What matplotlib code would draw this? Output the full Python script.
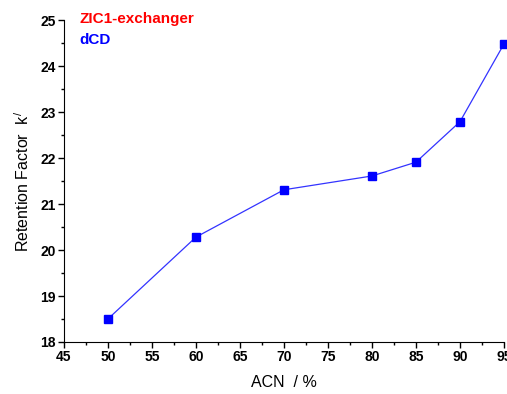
import matplotlib
matplotlib.use("Agg")
import matplotlib.pyplot as plt
from matplotlib.ticker import MultipleLocator

acn = [50, 60, 70, 80, 85, 90, 95]
k_dcd = [18.5, 20.28, 21.31, 21.61, 21.91, 22.79, 24.48]

plt.rcParams['font.family'] = ['Liberation Sans', 'DejaVu Sans']
plt.rcParams['mathtext.fontset'] = 'custom'
plt.rcParams['mathtext.rm'] = 'Liberation Sans'
plt.rcParams['mathtext.it'] = 'Liberation Sans'

fig = plt.figure(figsize=(5.07, 3.94), dpi=100)
ax = fig.add_axes([0.126, 0.132, 0.868, 0.817])

ax.plot(acn, k_dcd, color='#3333ff', lw=0.9, marker='s', ms=6,
        mfc='#0000ff', mec='#0000ff', clip_on=False)

ax.set_xlim(45, 95)
ax.set_ylim(18, 25)
ax.xaxis.set_major_locator(MultipleLocator(5))
ax.xaxis.set_minor_locator(MultipleLocator(2.5))
ax.yaxis.set_major_locator(MultipleLocator(1))
ax.yaxis.set_minor_locator(MultipleLocator(0.5))

for s in ['top', 'right']:
    ax.spines[s].set_visible(False)
ax.tick_params(which='major', direction='out', length=4, width=1, labelsize=10, pad=2)
ax.tick_params(which='minor', direction='out', length=2.5, width=1)
for lab in ax.get_xticklabels() + ax.get_yticklabels():
    lab.set_fontweight('bold')

ax.set_xlabel('ACN  / %', fontsize=11.5, labelpad=8)
ax.set_ylabel(r'Retention Factor  k$^{\,/}$', fontsize=11.5, labelpad=6)

ax.text(0.036, 1.025, 'ZIC1-exchanger', transform=ax.transAxes, color='red',
        fontsize=11, fontweight='bold', va='top', clip_on=False)
ax.text(0.036, 0.96, 'dCD', transform=ax.transAxes, color='#0000ff',
        fontsize=11, fontweight='bold', va='top')

fig.savefig('out.png', dpi=100)
